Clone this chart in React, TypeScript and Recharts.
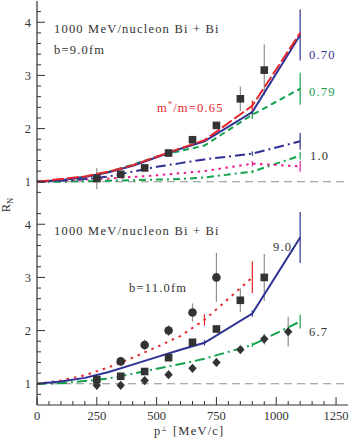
import React from "react";
import {
  ComposedChart,
  ErrorBar,
  Line,
  ReferenceLine,
  Scatter,
  XAxis,
  YAxis,
} from "recharts";

const FONT = "'Liberation Serif', 'Times New Roman', serif";
const INK = "#333333";
const RED = "#e3262b";
const BLUE = "#2e3192";
const GREEN = "#14a24c";
const PINK = "#ec1c8c";
const GREY = "#8e8e8e";

// axis ticks
const pMajor = [0, 250, 500, 750, 1000, 1250];
const pTicks = [
  0, 50, 100, 150, 200, 250, 300, 350, 400, 450, 500, 550, 600, 650, 700, 750,
  800, 850, 900, 950, 1000, 1050, 1100, 1150, 1200, 1250,
];
const rMajor = [1, 2, 3, 4];
const rTicks = [
  0.8, 1, 1.2, 1.4, 1.6, 1.8, 2, 2.2, 2.4, 2.6, 2.8, 3, 3.2, 3.4, 3.6, 3.8, 4, 4.2,
];

// model curves: transverse momentum points
const modelP = [0, 100, 200, 300, 400, 500, 600, 700, 900, 1100];

// upper panel, b = 9.0 fm
const b9Mass065 = [1.0, 1.05, 1.1, 1.19, 1.31, 1.47, 1.63, 1.78, 2.43, 3.8];
const b9Mass065Err = [0, 0, 0, 0, 0, 0, 0, 0, 0.1, 0];
const b9Mass070 = [1.0, 1.03, 1.09, 1.18, 1.3, 1.46, 1.62, 1.76, 2.31, 3.76];
const b9Mass070Err = [0, 0, 0, 0, 0, 0, 0, 0, 0.04, 0.48];
const b9Mass079 = [1.0, 1.03, 1.09, 1.19, 1.32, 1.47, 1.58, 1.68, 2.26, 2.75];
const b9Mass079Err = [0, 0, 0, 0, 0, 0, 0, 0, 0.08, 0.3];
const b9FreeA = [1.0, 1.02, 1.05, 1.1, 1.19, 1.28, 1.35, 1.42, 1.53, 1.76];
const b9FreeAErr = [0, 0, 0, 0, 0, 0, 0, 0, 0.04, 0.16];
const b9FreeB = [1.0, 1.02, 1.04, 1.06, 1.09, 1.12, 1.16, 1.2, 1.34, 1.29];
const b9FreeBErr = [0, 0, 0, 0, 0, 0, 0, 0, 0.05, 0.1];
const b9FreeC = [1.0, 1.0, 1.01, 1.02, 1.03, 1.04, 1.05, 1.08, 1.19, 1.49];
const b9FreeCErr = [0, 0, 0, 0, 0, 0, 0, 0, 0.03, 0.07];

const dataP = [250, 350, 450, 550, 650, 750, 850, 950];
const b9Squares = [1.06, 1.14, 1.26, 1.54, 1.79, 2.06, 2.56, 3.1];
const b9SquaresErr = [0.2, 0.04, 0.04, 0.05, 0.05, 0.06, 0.23, 0.48];

// lower panel
const b11P = [0, 100, 200, 300, 400, 500, 600, 700, 900];
const b11Model = [1.0, 1.06, 1.16, 1.31, 1.49, 1.69, 1.9, 2.2, 3.0];
const b11ModelErr = [0, 0, 0, 0, 0, 0, 0, 0.11, 0.3];
const b9Model = [1.0, 1.04, 1.11, 1.22, 1.36, 1.5, 1.64, 1.77, 2.32, 3.75];
const b9ModelErr = [0, 0, 0, 0, 0, 0, 0, 0.05, 0.06, 0.48];
const b67Model = [1.0, 1.01, 1.05, 1.1, 1.19, 1.28, 1.37, 1.47, 1.73, 2.17];
const b67ModelErr = [0, 0, 0, 0, 0, 0, 0, 0, 0.04, 0.13];

const circleP = [350, 450, 550, 650, 750];
const b11Circles = [1.42, 1.73, 2.0, 2.34, 3.0];
const b11CirclesErr = [0.08, 0.1, 0.1, 0.17, 0.46];
const b9Squares2 = [1.08, 1.14, 1.23, 1.49, 1.78, 2.03, 2.57, 3.0];
const b9Squares2Err = [0.05, 0.05, 0.05, 0.05, 0.06, 0.07, 0.22, 0.44];
const diamondP = [250, 350, 450, 550, 650, 750, 850, 950, 1050];
const b67Diamonds = [0.97, 0.97, 1.06, 1.17, 1.29, 1.4, 1.64, 1.84, 1.98];
const b67DiamondsErr = [0.08, 0.04, 0.04, 0.04, 0.04, 0.04, 0.05, 0.1, 0.28];

const rows = (p: number[], r: number[], e: number[]) =>
  p.map((x, i) => ({ p: x, r: r[i], e: e[i] }));

type Side = "left" | "right" | "top" | "bottom";

function sideTick(side: Side, majors: number[], labelled: boolean) {
  return function Tick(props: any) {
    const { x, y, payload } = props;
    const v = Number(payload.value);
    const major = majors.some((m) => Math.abs(m - v) < 1e-6);
    const len = major ? 8 : 4;
    const dx = side === "left" ? len : side === "right" ? -len : 0;
    const dy = side === "bottom" ? -len : side === "top" ? len : 0;
    return (
      <g>
        <line x1={x} y1={y} x2={x + dx} y2={y + dy} stroke={INK} strokeWidth={1} />
        {labelled && major && side === "left" && (
          <text x={x - 6} y={y + 4.3} textAnchor="end" fontFamily={FONT} fontSize={12.5} fill={INK}>
            {v}
          </text>
        )}
        {labelled && major && side === "bottom" && (
          <text x={x} y={y + 14.5} textAnchor="middle" fontFamily={FONT} fontSize={12.5} fill={INK}>
            {v}
          </text>
        )}
      </g>
    );
  };
}

const frame = { stroke: INK, strokeWidth: 1.2 };

function frameAxes(showX: boolean) {
  return [
    <XAxis
      key="xb"
      xAxisId="x"
      dataKey="p"
      type="number"
      domain={[0, 1300]}
      allowDataOverflow
      ticks={pTicks}
      interval={0}
      tickSize={0}
      tickMargin={0}
      tickLine={false}
      tick={sideTick("bottom", pMajor, showX)}
      height={showX ? 40 : 0}
      axisLine={frame}
    />,
    <XAxis
      key="xt"
      xAxisId="xTop"
      orientation="top"
      type="number"
      domain={[0, 1300]}
      allowDataOverflow
      ticks={pTicks}
      interval={0}
      tickSize={0}
      tickMargin={0}
      tickLine={false}
      tick={sideTick("top", pMajor, false)}
      height={0}
      axisLine={frame}
    />,
    <YAxis
      key="yl"
      yAxisId="y"
      dataKey="r"
      type="number"
      domain={[0.6, 4.4]}
      allowDataOverflow
      ticks={rTicks}
      interval={0}
      tickSize={0}
      tickMargin={0}
      tickLine={false}
      tick={sideTick("left", rMajor, true)}
      width={30}
      axisLine={frame}
    />,
    <YAxis
      key="yr"
      yAxisId="yRight"
      orientation="right"
      type="number"
      domain={[0.6, 4.4]}
      allowDataOverflow
      ticks={rTicks}
      interval={0}
      tickSize={0}
      tickMargin={0}
      tickLine={false}
      tick={sideTick("right", rMajor, false)}
      width={0}
      axisLine={frame}
    />,
  ];
}

const SquareMark = (props: any) => (
  <rect x={props.cx - 3.8} y={props.cy - 3.8} width={7.6} height={7.6} fill={INK} />
);
const CircleMark = (props: any) => <circle cx={props.cx} cy={props.cy} r={4.3} fill={INK} />;
const DiamondMark = (props: any) => (
  <path
    d={`M${props.cx},${props.cy - 4.6}L${props.cx + 4.2},${props.cy}L${props.cx},${props.cy + 4.6}L${props.cx - 4.2},${props.cy}Z`}
    fill={INK}
  />
);

const errGrey = <ErrorBar dataKey="e" direction="y" width={0} stroke={GREY} strokeWidth={1.2} />;

function modelLine(
  key: string,
  data: { p: number; r: number; e: number }[],
  color: string,
  dash: string | undefined,
) {
  return (
    <Line
      key={key}
      xAxisId="x"
      yAxisId="y"
      data={data}
      dataKey="r"
      type="linear"
      stroke={color}
      strokeWidth={2}
      strokeDasharray={dash}
      dot={false}
      activeDot={false}
      isAnimationActive={false}
    >
      <ErrorBar dataKey="e" direction="y" width={0} stroke={color} strokeWidth={1.2} />
    </Line>
  );
}

const txt = { fontFamily: FONT, fontSize: 12.5, letterSpacing: 1.2 };

export default function App() {
  return (
    <div style={{ position: "absolute", left: 0, top: 0, width: 353, height: 445, background: "#fff" }}>
      <div style={{ position: "absolute", left: 0, top: 0 }}>
        <ComposedChart width={353} height={204} margin={{ top: 1, right: 5, bottom: 1, left: 7 }}>
          {frameAxes(false)}
          <ReferenceLine xAxisId="x" yAxisId="y" y={1} stroke={GREY} strokeWidth={1.2} strokeDasharray="8 5" />
          <Scatter
            xAxisId="x"
            yAxisId="y"
            data={rows(dataP, b9Squares, b9SquaresErr)}
            shape={SquareMark}
            isAnimationActive={false}
          >
            {errGrey}
          </Scatter>
          {modelLine("c", rows(modelP, b9FreeC, b9FreeCErr), GREEN, "7 4 2 4")}
          {modelLine("b", rows(modelP, b9FreeB, b9FreeBErr), PINK, "2.5 4.5")}
          {modelLine("a", rows(modelP, b9FreeA, b9FreeAErr), BLUE, "10 4 2 4")}
          {modelLine("79", rows(modelP, b9Mass079, b9Mass079Err), GREEN, "6 4")}
          {modelLine("70", rows(modelP, b9Mass070, b9Mass070Err), BLUE, undefined)}
          {modelLine("65", rows(modelP, b9Mass065, b9Mass065Err), RED, "12 3")}
        </ComposedChart>
      </div>
      <div style={{ position: "absolute", left: 0, top: 203 }}>
        <ComposedChart width={353} height={242} margin={{ top: 0, right: 5, bottom: 0, left: 7 }}>
          {frameAxes(true)}
          <ReferenceLine xAxisId="x" yAxisId="y" y={1} stroke={GREY} strokeWidth={1.2} strokeDasharray="8 5" />
          <Scatter
            xAxisId="x"
            yAxisId="y"
            data={rows(circleP, b11Circles, b11CirclesErr)}
            shape={CircleMark}
            isAnimationActive={false}
          >
            {errGrey}
          </Scatter>
          <Scatter
            xAxisId="x"
            yAxisId="y"
            data={rows(dataP, b9Squares2, b9Squares2Err)}
            shape={SquareMark}
            isAnimationActive={false}
          >
            {errGrey}
          </Scatter>
          <Scatter
            xAxisId="x"
            yAxisId="y"
            data={rows(diamondP, b67Diamonds, b67DiamondsErr)}
            shape={DiamondMark}
            isAnimationActive={false}
          >
            {errGrey}
          </Scatter>
          {modelLine("67", rows(modelP, b67Model, b67ModelErr), GREEN, "10 4 2 4")}
          {modelLine("11", rows(b11P, b11Model, b11ModelErr), RED, "2.5 5")}
          {modelLine("9", rows(modelP, b9Model, b9ModelErr), BLUE, undefined)}
        </ComposedChart>
      </div>
      <svg
        width={353}
        height={445}
        style={{ position: "absolute", left: 0, top: 0, pointerEvents: "none" }}
      >
        <g fill={INK} {...txt}>
          <text x={54} y={33}>1000 MeV/nucleon Bi + Bi</text>
          <text x={54} y={54}>b=9.0fm</text>
          <text x={54} y={235}>1000 MeV/nucleon Bi + Bi</text>
          <text x={129} y={292}>b=11.0fm</text>
          <text x={273} y={251}>9.0</text>
          <text x={309} y={336}>6.7</text>
          <text x={310} y={160}>1.0</text>
        </g>
        <text x={309} y={59} fill={BLUE} {...txt}>0.70</text>
        <text x={309} y={96} fill={GREEN} {...txt}>0.79</text>
        <text x={157} y={112} fill={RED} {...txt}>
          m<tspan dy={-5} fontSize={8}>*</tspan>
          <tspan dy={5}>/m=0.65</tspan>
        </text>
        <text transform="translate(10,205) rotate(-90)" textAnchor="middle" fill={INK} fontFamily={FONT} fontSize={12.5}>
          R<tspan dy={3} fontSize={8.5}>N</tspan>
        </text>
        <text x={154} y={435} fill={INK} {...txt}>
          p<tspan dy={-4} fontSize={7}>⊥</tspan>
          <tspan dy={4}> [MeV/c]</tspan>
        </text>
      </svg>
    </div>
  );
}
